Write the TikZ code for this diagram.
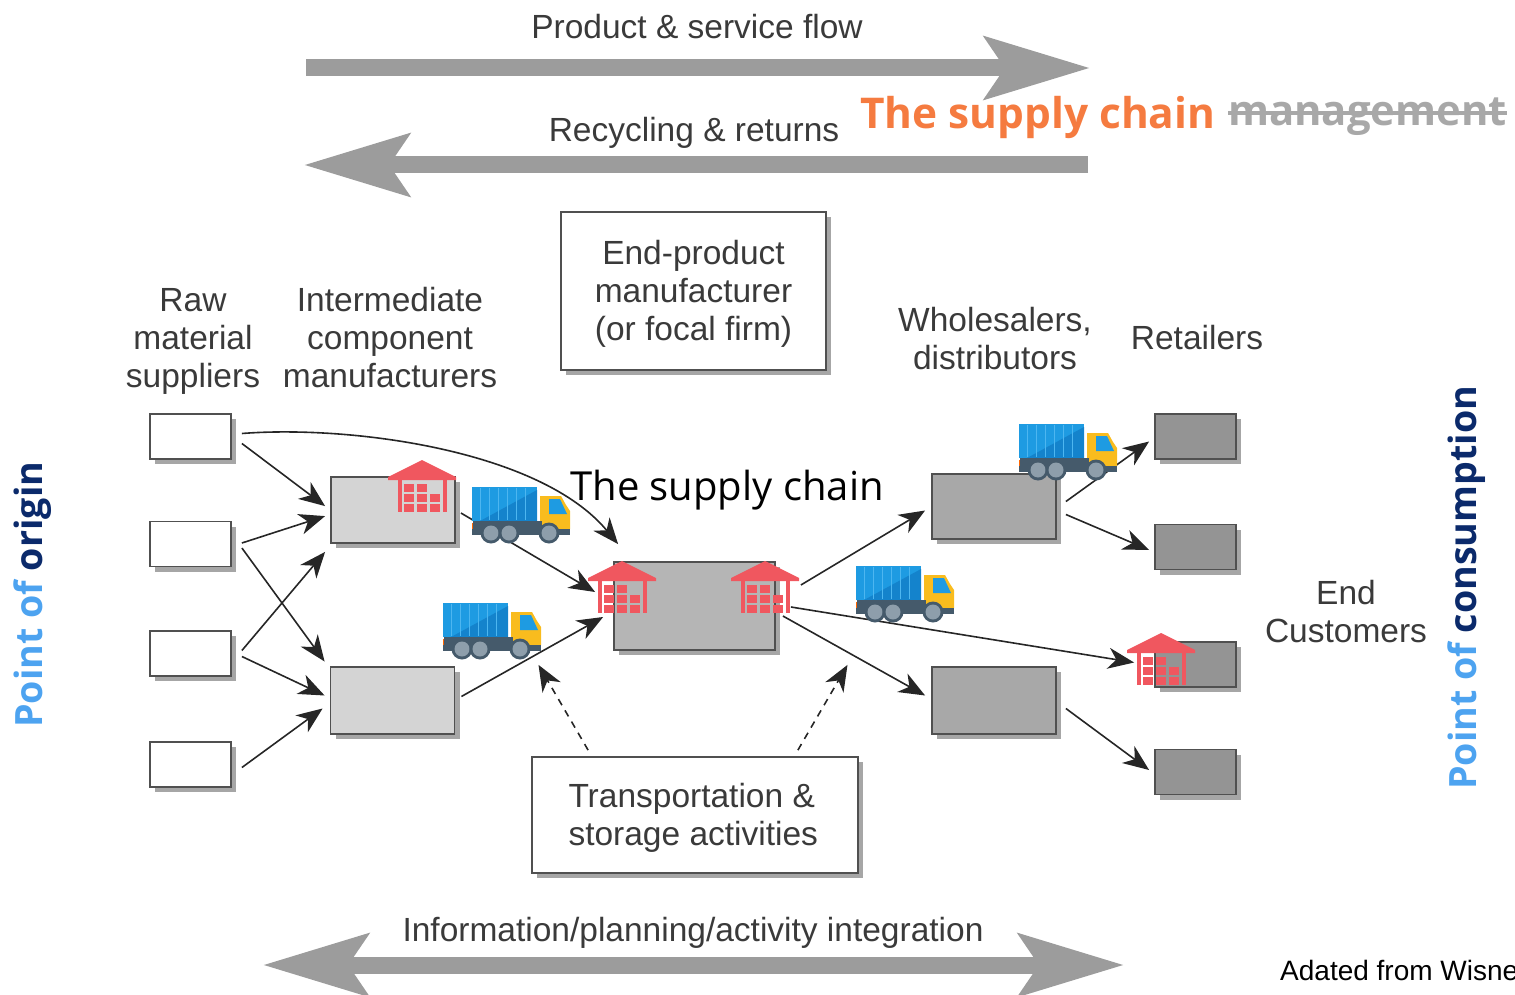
\documentclass[tikz,border=0pt]{standalone}
\usepackage{fontspec}
\setmainfont{Liberation Sans}
\newfontfamily\headfont{Open Sans}
\usetikzlibrary{arrows.meta,shadows,calc}
\definecolor{txt}{HTML}{3A3A3A}
\definecolor{bigarrow}{HTML}{9C9C9C}
\definecolor{edge}{HTML}{505050}
\definecolor{wred}{HTML}{F0575F}
\definecolor{tblue}{HTML}{1E9BE2}
\definecolor{tblued}{HTML}{1483CC}
\definecolor{tblueL}{HTML}{4DB6F0}
\definecolor{tyellow}{HTML}{F9BC1E}
\definecolor{tdark}{HTML}{455A6B}
\definecolor{twheel}{HTML}{8E9EAB}
\definecolor{orangeh}{HTML}{F57B40}
\definecolor{greyh}{HTML}{A8A8A8}
\definecolor{pblue}{HTML}{4DA3F0}
\definecolor{pnavy}{HTML}{0B2A6B}
\newcommand{\strk}[1]{\leavevmode\setbox0\hbox{#1}\rlap{\rule[0.27em]{\wd0}{0.09em}}\box0}
\tikzset{
  x=1pt,y=-1pt,
  lab/.style={font=\fontsize{33.5}{38}\selectfont,text=txt,align=center,inner sep=0pt},
  sbox/.style={draw=edge,line width=1.8pt,inner sep=0pt,drop shadow={shadow xshift=5pt,shadow yshift=-5pt,fill=black!35,opacity=1}},
  rawbox/.style={sbox,fill=white,minimum width=81,minimum height=45},
  retbox/.style={sbox,fill=black!42,minimum width=81,minimum height=45},
  conn/.style={draw=black!85,line width=1.6pt,-{Stealth[length=26pt,width=21pt,inset=8pt]}},
  dconn/.style={conn,dashed,dash pattern=on 7pt off 6pt},
  flow/.style={draw=bigarrow,line width=17pt},
  truckpic/.pic={
    \fill[tblue] (0,0) rectangle (65,34);
    \fill[tblued] (65,3) -- (65,34) -- (8,34) -- cycle;
    \foreach \r in {8,17,26,35,44,53} \draw[tblueL,line width=.6pt] (\r,1) -- (\r,33);
    \fill[tyellow] (68,9) -- (89,9) -- (94,18) -- (98,24) -- (98,42) -- (68,42) -- cycle;
    \fill[tblue] (77,12) -- (88,12) -- (95,27) -- (77,27) -- cycle;
    \fill[orange!80!red] (0,36) rectangle (3,42);
    \fill[tdark] (0,42) rectangle (98,48);
    \fill[tdark] (1,34) rectangle (70,44);
    \foreach \w in {19,37,77} {\fill[tdark] (\w,46) circle (10.5); \fill[twheel] (\w,46) circle (7.5);}
  },
  housepic/.pic={
    \fill[wred] (-34,17) -- (0,0) -- (34,17) -- (34,20) -- (-34,20) -- cycle;
    \fill[wred] (-24,18) rectangle (-20,52);
    \fill[wred] (21,18) rectangle (25,52);
    \foreach \c/\r in {-13/28,0/28,-13/38,0/38,13/38,-13/48,0/48,13/48}
      \fill[wred] (\c-5.3,\r-3.9) rectangle (\c+5.3,\r+3.9);
  },
}
\begin{document}
\begin{tikzpicture}
\useasboundingbox (0,0) rectangle (1515,995);
\clip (0,0) rectangle (1515,995);
% coordinates for the big flow arrows
\coordinate (f1a) at (306,68);  \coordinate (f1b) at (1090,68);
\coordinate (f2a) at (1088,165);\coordinate (f2b) at (304,165);
\coordinate (f3a) at (263,965); \coordinate (f3b) at (1124,965);
\draw[flow,-{Stealth[length=105pt,width=62pt,inset=20pt,bigarrow]}] (f1a) -- (f1b);
\draw[flow,-{Stealth[length=105pt,width=62pt,inset=20pt,bigarrow]}] (f2a) -- (f2b);
\draw[flow,{Stealth[length=105pt,width=62pt,inset=20pt,bigarrow]}-{Stealth[length=105pt,width=62pt,inset=20pt,bigarrow]}] (f3a) -- (f3b);
% boxes
\node[rawbox] (r1) at (190.5,436.5) {};
\node[rawbox] (r2) at (190.5,544) {};
\node[rawbox] (r3) at (190.5,653.5) {};
\node[rawbox] (r4) at (190.5,764.5) {};
\node[sbox,fill=black!17,minimum width=124,minimum height=66] (i1) at (393,510) {};
\node[sbox,fill=black!17,minimum width=124,minimum height=67] (i2) at (392.5,700.5) {};
\node[sbox,fill=black!29,minimum width=161,minimum height=88] (c) at (694.5,606) {};
\node[sbox,fill=black!34,minimum width=124,minimum height=65] (w1) at (994,506.5) {};
\node[sbox,fill=black!34,minimum width=124,minimum height=67] (w2) at (994,700.5) {};
\node[retbox] (s1) at (1195.5,436.5) {};
\node[retbox] (s2) at (1195.5,547) {};
\node[retbox] (s3) at (1195.5,664.5) {};
\node[retbox] (s4) at (1195.5,772) {};
\node[sbox,fill=white,minimum width=265,minimum height=158,lab,draw=edge] (ep) at (693.5,291) {\parbox[c]{262pt}{\vspace*{6pt}\centering End-product\\manufacturer\\(or focal firm)}};
\node[sbox,fill=white,minimum width=326,minimum height=116,lab,draw=edge] (ts) at (695,815) {\parbox[c]{323pt}{\vspace*{6pt}\hspace*{35pt}Transportation \&\\\hspace*{35pt}storage activities}};
% connectors
\draw[conn] ([shift={(10,-3)}]r1.east) .. controls (350,425) and (540,450) .. ([shift={(5,-17)}]c.north west);
\draw[conn] ([shift={(10,7)}]r1.east) -- ([shift={(-5,30)}]i1.north west);
\draw[conn] ([shift={(10,-1)}]r2.east) -- ([shift={(-5,40)}]i1.north west);
\draw[conn] ([shift={(10,4)}]r2.east) -- ([shift={(-5,-39)}]i2.west);
\draw[conn] ([shift={(10,-3)}]r3.east) -- ([shift={(-5,8)}]i1.south west);
\draw[conn] ([shift={(10,3)}]r3.east) -- ([shift={(-5,-5)}]i2.west);
\draw[conn] ([shift={(10,3)}]r4.east) -- ([shift={(-7,8)}]i2.west);
\draw[conn] ([shift={(5,3)}]i1.east) -- ([shift={(-18,-14)}]c.west);
\draw[conn] ([shift={(6,-4)}]i2.east) -- ([shift={(-10,11)}]c.west);
\draw[conn] ([shift={(25,-21)}]c.east) -- ([shift={(-6,4)}]w1.west);
\draw[conn] ([shift={(7,10)}]c.east) -- ([shift={(-6,-5)}]w2.west);
\draw[conn] ([shift={(15,1)}]c.east) -- ([shift={(-20,-2)}]s3.west);
\draw[conn] ([shift={(9,-5)}]w1.east) -- ([shift={(-5,5)}]s1.west);
\draw[conn] ([shift={(9,8)}]w1.east) -- ([shift={(-5,3)}]s2.west);
\draw[conn] ([shift={(9,8)}]w2.east) -- ([shift={(-5,-2)}]s4.west);
\draw[dconn] ([shift={(57,-6)}]ts.north west) -- ([shift={(-156,14)}]c.south);
\draw[dconn] ([shift={(-61,-6)}]ts.north east) -- ([shift={(153,14)}]c.south);
% pictograms
\pic (t1) at (472,487) {truckpic};
\pic (t2) at (443,603) {truckpic};
\pic (t3) at (856,566) {truckpic};
\pic (t4) at (1019,424) {truckpic};
\pic (h1) at (422,460) {housepic};
\pic (h2) at (622,561) {housepic};
\pic (h3) at (765,561) {housepic};
\pic (h4) at (1161,633) {housepic};
% labels
\node[lab] (l1) at (697,27) {Product \& service flow};
\node[lab] (l2) at (694,133) {Recycling \& returns};
\node[lab] (l3) at (193,341) {Raw\\material\\suppliers};
\node[lab] (l4) at (390,338) {Intermediate\\component\\manufacturers};
\node[lab] (l5) at (995,339) {Wholesalers,\\distributors};
\node[lab] (l6) at (1197,338) {Retailers};
\node[lab] (l7) at (1346,612) {End\\Customers};
\node[lab] (l8) at (693,933) {Information/planning/activity integration};
\node[font=\headfont\fontsize{40}{46}\selectfont,inner sep=0pt,anchor=center] (sc) at (727,490) {The supply chain};
\node[font=\headfont\bfseries\fontsize{42.4}{48}\selectfont,text=orangeh,inner sep=0pt,anchor=west] (h) at (860,117) {The supply chain};
\node[font=\headfont\bfseries\fontsize{41.8}{48}\selectfont,text=greyh,inner sep=0pt,anchor=west] (m) at (1228,117) {\strk{management}};
\node[font=\headfont\bfseries\fontsize{37.6}{42}\selectfont,rotate=90,inner sep=0pt,anchor=west] (po) at (33,728) {\textcolor{pblue}{Point of} \textcolor{pnavy}{origin}};
\node[font=\headfont\bfseries\fontsize{37.6}{42}\selectfont,rotate=90,inner sep=0pt,anchor=west] (pc) at (1467,790) {\textcolor{pblue}{Point of} \textcolor{pnavy}{consumption}};
\node[font=\fontsize{28}{32}\selectfont,text=black,inner sep=0pt,anchor=west] (ad) at (1280,970) {Adated from Wisne};
\end{tikzpicture}
\end{document}
